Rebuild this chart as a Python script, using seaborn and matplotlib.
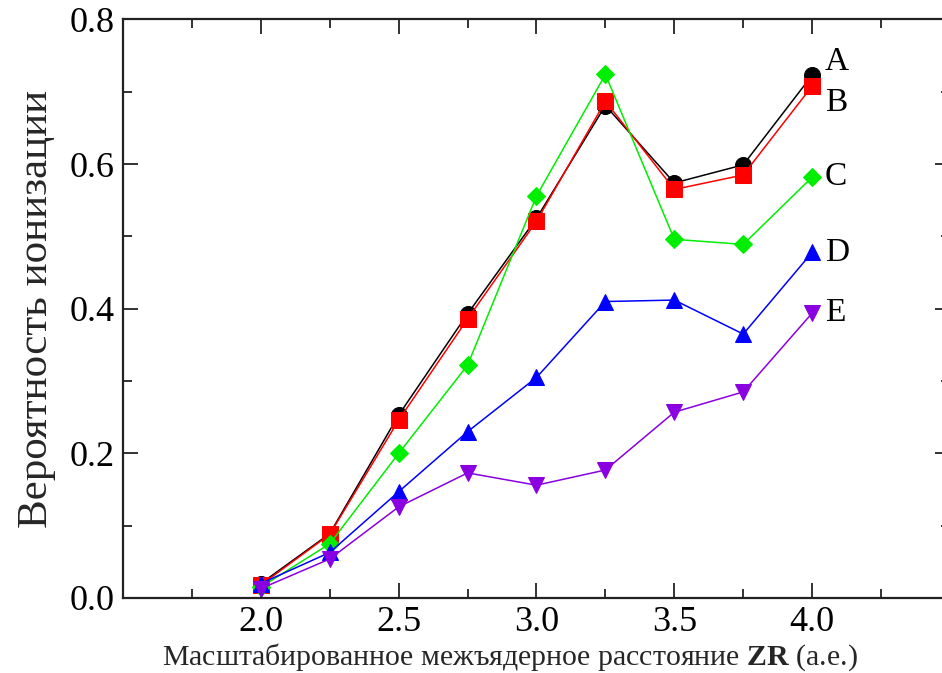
import matplotlib
matplotlib.use("Agg")
import matplotlib.pyplot as plt
import seaborn as sns
import pandas as pd
from matplotlib.ticker import FixedLocator

zr = [2.0, 2.25, 2.5, 2.75, 3.0, 3.25, 3.5, 3.75, 4.0]
series_names = ["A", "B", "C", "D", "E"]
a_vals = [0.020, 0.089, 0.253, 0.393, 0.525, 0.681, 0.574, 0.599, 0.723]
b_vals = [0.018, 0.088, 0.246, 0.386, 0.521, 0.687, 0.565, 0.585, 0.708]
c_vals = [0.015, 0.075, 0.200, 0.322, 0.556, 0.724, 0.496, 0.489, 0.582]
d_vals = [0.020, 0.063, 0.147, 0.230, 0.305, 0.410, 0.412, 0.365, 0.478]
e_vals = [0.013, 0.054, 0.126, 0.173, 0.156, 0.177, 0.257, 0.285, 0.394]
x_ticks = [2.0, 2.5, 3.0, 3.5, 4.0]
x_ticklabels = ["2.0", "2.5", "3.0", "3.5", "4.0"]
y_ticks = [0.0, 0.2, 0.4, 0.6, 0.8]
y_ticklabels = ["0.0", "0.2", "0.4", "0.6", "0.8"]
colors = ["#000000", "#ff0000", "#00ee00", "#0000ff", "#8a00e0"]
markers = ["o", "s", "D", "^", "v"]
msizes = [11.5, 11, 9.5, 11.5, 11.5]

all_vals = [a_vals, b_vals, c_vals, d_vals, e_vals]
frames = []
for name, vals in zip(series_names, all_vals):
    frames.append(pd.DataFrame({"ZR": zr, "P": vals, "series": name}))
df = pd.concat(frames, ignore_index=True)

sns.set_style("ticks")
plt.rcParams["font.family"] = ["Liberation Serif", "DejaVu Serif"]
plt.rcParams["mathtext.fontset"] = "custom"
plt.rcParams["mathtext.rm"] = "Liberation Serif"
plt.rcParams["mathtext.bf"] = "Liberation Serif:bold"

fig = plt.figure(figsize=(9.42, 6.73), dpi=100)
ax = fig.add_axes([123 / 942, 1 - 598 / 673, (950 - 123) / 942, (598 - 19.5) / 673])

for name, col, mk, ms in zip(series_names, colors, markers, msizes):
    sub = df[df["series"] == name]
    sns.lineplot(data=sub, x="ZR", y="P", color=col, marker=mk, markersize=ms,
                 markeredgecolor=col, linewidth=1.1, ax=ax, legend=False)

# series labels at the right end
label_offsets = {"A": 10, "B": -12, "C": 0, "D": 0, "E": 0}
for name, col in zip(series_names, colors):
    sub = df[df["series"] == name]
    xl = sub["ZR"].iloc[-1]
    yl = sub["P"].iloc[-1]
    ax.annotate(name, (xl, yl), xytext=(9, label_offsets[name]), textcoords="offset points",
                fontsize=24, va="center", ha="left", color="black")

ax.set_xlim(1.5, 4.5)
ax.set_ylim(0.0, 0.8)
ax.xaxis.set_major_locator(FixedLocator(x_ticks))
ax.xaxis.set_minor_locator(FixedLocator([1.75, 2.25, 2.75, 3.25, 3.75, 4.25]))
ax.yaxis.set_major_locator(FixedLocator(y_ticks))
ax.yaxis.set_minor_locator(FixedLocator([0.1, 0.3, 0.5, 0.7]))
ax.set_xticklabels(x_ticklabels)
ax.set_yticklabels(y_ticklabels)
ax.tick_params(which="both", direction="in", top=True, right=True, width=1.3, colors="#222222",
               labelcolor="black")
ax.tick_params(which="major", length=11, labelsize=26, pad=6)
ax.tick_params(which="minor", length=6.5)
for s in ax.spines.values():
    s.set_linewidth(1.6)
    s.set_color("#222222")

ax.set_xlabel(r"Масштабированное межъядерное расстояние $\mathbf{ZR}$ (а.е.)", fontsize=21.5, labelpad=0)
ax.xaxis.set_label_coords((510 - 123) / 827, -0.075)
ax.set_ylabel("Вероятность ионизации", fontsize=31, labelpad=10)

fig.savefig("out.png", dpi=100)
